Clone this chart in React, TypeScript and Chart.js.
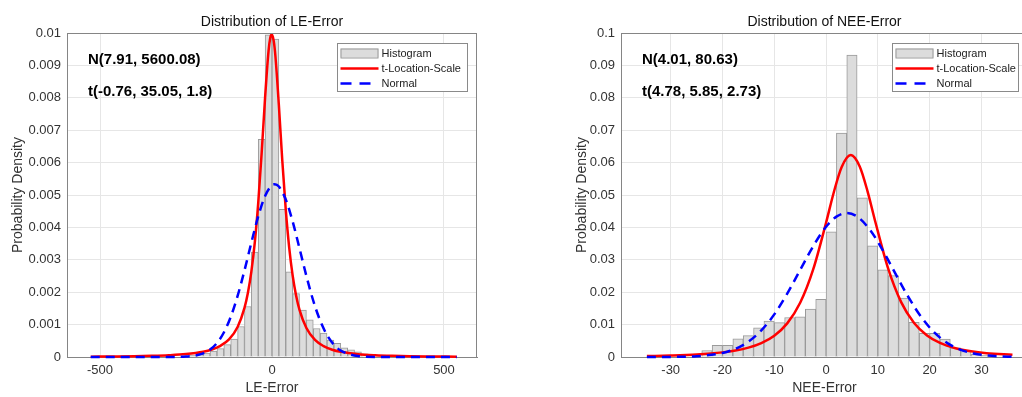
import React, { useEffect, useRef } from 'react';
import { Chart, registerables } from 'chart.js';

Chart.register(...registerables);

// ---------- LE-Error panel data ----------
const LE_BIN_CENTERS = [-250, -230, -210, -190, -170, -150, -130, -110, -90, -70, -50, -30, -10, 10, 30, 50, 70, 90, 110, 130, 150, 170, 190, 210, 230, 250, 270];
const LE_HIST = [0.00003, 0.00005, 0.00008, 0.00012, 0.00018, 0.00026, 0.00038, 0.00055, 0.00094, 0.00156, 0.00324, 0.00672, 0.00994, 0.00981, 0.00456, 0.00263, 0.00196, 0.00145, 0.00115, 0.00088, 0.00074, 0.00052, 0.00042, 0.00028, 0.00022, 0.00016, 0.0001];
const LE_T_X = [-527, -450, -400, -350, -300, -250, -200, -175, -150, -125, -100, -80, -70, -60, -50, -40, -30, -20, -10, -5, -1, 5, 10, 20, 30, 40, 50, 60, 70, 80, 100, 125, 150, 175, 200, 250, 300, 350, 400, 450, 537];
const LE_T_Y = [0.0000112, 0.0000177, 0.0000245, 0.0000354, 0.0000541, 0.000089, 0.000162, 0.000231, 0.000344, 0.000544, 0.000927, 0.001515, 0.001983, 0.002633, 0.003534, 0.004754, 0.006304, 0.008021, 0.009448, 0.00985, 0.00996, 0.009756, 0.009275, 0.007764, 0.00605, 0.004546, 0.003377, 0.002519, 0.001901, 0.001457, 0.000895, 0.000528, 0.000335, 0.000225, 0.000159, 0.0000876, 0.0000534, 0.000035, 0.0000243, 0.0000175, 0.0000107];
const LE_N_X = [-527, -300, -250, -200, -180, -160, -140, -120, -100, -80, -60, -40, -20, 0, 8, 20, 40, 60, 80, 100, 120, 140, 160, 180, 200, 250, 300, 537];
const LE_N_Y = [0, 0.0000011, 0.000014, 0.000112, 0.000228, 0.00043, 0.000755, 0.001237, 0.001884, 0.002672, 0.003531, 0.004342, 0.004972, 0.0053, 0.00533, 0.00526, 0.004862, 0.004183, 0.003351, 0.0025, 0.001736, 0.001123, 0.000676, 0.000379, 0.000198, 0.000028, 0.0000026, 0];
const LE_X_TICKS = [-500, 0, 500];
const LE_Y_TICKS = [0, 0.001, 0.002, 0.003, 0.004, 0.005, 0.006, 0.007, 0.008, 0.009, 0.01];

// ---------- NEE-Error panel data ----------
const NEE_BIN_CENTERS = [-23, -21, -19, -17, -15, -13, -11, -9, -7, -5, -3, -1, 1, 3, 5, 7, 9, 11, 13, 15, 17, 19, 21, 23, 25, 27, 29, 31];
const NEE_HIST = [0.002, 0.0036, 0.0036, 0.0056, 0.0066, 0.009, 0.0111, 0.0106, 0.0122, 0.0124, 0.0148, 0.0178, 0.0386, 0.0691, 0.0932, 0.0491, 0.0343, 0.0269, 0.0251, 0.0182, 0.0107, 0.0073, 0.0073, 0.0055, 0.0028, 0.0017, 0.0009, 0.0005];
const NEE_T_X = [-34.6, -30, -25, -20, -17.5, -15, -12.5, -10, -7.5, -5, -2.5, 0, 1.5, 3, 4.78, 6.5, 8, 9.5, 12, 14.5, 17, 19.5, 22, 25, 28, 31, 36];
const NEE_T_Y = [0.000296, 0.000457, 0.000778, 0.001429, 0.002006, 0.002892, 0.004297, 0.006582, 0.010384, 0.016736, 0.02696, 0.04144, 0.05086, 0.05857, 0.06233, 0.05881, 0.05122, 0.04182, 0.02726, 0.016934, 0.010503, 0.00665, 0.004339, 0.002706, 0.00176, 0.001188, 0.000663];
const NEE_N_X = [-34.6, -30, -25, -20, -17.5, -15, -12.5, -10, -7.5, -5, -2.5, 0, 2, 4, 6, 8.5, 11, 13.5, 16, 18.5, 21, 23.5, 26, 28.5, 31, 33.5, 36];
const NEE_N_Y = [0.0000043, 0.000034, 0.000241, 0.001246, 0.002523, 0.004727, 0.008198, 0.013156, 0.01954, 0.02686, 0.03416, 0.04021, 0.04333, 0.04443, 0.04335, 0.03921, 0.03282, 0.02542, 0.01822, 0.01209, 0.00742, 0.004217, 0.002216, 0.001078, 0.000485, 0.000202, 0.000078];
const NEE_X_TICKS = [-30, -20, -10, 0, 10, 20, 30];
const NEE_Y_TICKS = [0, 0.01, 0.02, 0.03, 0.04, 0.05, 0.06, 0.07, 0.08, 0.09, 0.1];

const LEGEND_LABELS = ['Histogram', 't-Location-Scale', 'Normal'];

const FONT = "'Liberation Sans', Arial, Helvetica, sans-serif";
const AXIS = '#858585';
const GRID = '#e6e6e6';
const TICK = '#333333';
const BAR_FILL = '#dcdcdc';
const BAR_EDGE = '#9a9a9a';
const RED = '#ff0000';
const BLUE = '#0000ff';

type PanelCfg = {
  left: number;
  width: number;
  yAxisWidth: number;
  yTitlePad: number;
  rightPad: number;
  xMin: number;
  xMax: number;
  yMax: number;
  centers: number[];
  hist: number[];
  tX: number[];
  tY: number[];
  nX: number[];
  nY: number[];
  xTicks: number[];
  yTicks: number[];
  title: string;
  xTitle: string;
  notes: string[];
  legendWidth: number;
};

function decorPlugin(cfg: PanelCfg) {
  return {
    id: 'decor',
    afterDraw(chart: any) {
      const { ctx, chartArea: a } = chart;
      ctx.save();
      // box (top & right)
      ctx.strokeStyle = AXIS;
      ctx.lineWidth = 1;
      ctx.beginPath();
      ctx.moveTo(a.left, a.top + 0.5);
      ctx.lineTo(a.right, a.top + 0.5);
      ctx.moveTo(a.right - 0.5, a.top);
      ctx.lineTo(a.right - 0.5, a.bottom);
      ctx.stroke();

      // title
      ctx.fillStyle = '#111';
      ctx.font = `14px ${FONT}`;
      ctx.textAlign = 'center';
      ctx.textBaseline = 'middle';
      ctx.fillText(cfg.title, (a.left + a.right) / 2, a.top - 10.5);

      // fit-parameter notes
      ctx.font = `bold 15px ${FONT}`;
      ctx.textAlign = 'left';
      ctx.fillStyle = '#000';
      cfg.notes.forEach((t, i) => ctx.fillText(t, a.left + 21, a.top + 27 + i * 32));

      // legend
      const bw = cfg.legendWidth;
      const bh = 48;
      const bx = Math.round(a.right - 10.5 - bw) + 0.5;
      const by = a.top + 10.5;
      ctx.fillStyle = '#ffffff';
      ctx.fillRect(bx, by, bw, bh);
      ctx.strokeStyle = '#8a8a8a';
      ctx.lineWidth = 1;
      ctx.strokeRect(bx, by, bw, bh);
      const sx = bx + 3;
      const ex = bx + 41;
      // histogram patch
      ctx.fillStyle = BAR_FILL;
      ctx.fillRect(sx, by + 5, ex - sx, 9);
      ctx.strokeStyle = BAR_EDGE;
      ctx.strokeRect(sx + 0.5, by + 5.5, ex - sx - 1, 9);
      // red line
      ctx.strokeStyle = RED;
      ctx.lineWidth = 2.5;
      ctx.beginPath();
      ctx.moveTo(sx, by + 25);
      ctx.lineTo(ex, by + 25);
      ctx.stroke();
      // blue dashed
      ctx.strokeStyle = BLUE;
      ctx.setLineDash([11, 8]);
      ctx.beginPath();
      ctx.moveTo(sx, by + 40);
      ctx.lineTo(ex, by + 40);
      ctx.stroke();
      ctx.setLineDash([]);
      ctx.fillStyle = '#222';
      ctx.font = `11px ${FONT}`;
      ctx.textAlign = 'left';
      ctx.textBaseline = 'middle';
      LEGEND_LABELS.forEach((lab, i) => ctx.fillText(lab, ex + 3, by + 10 + i * 15));
      ctx.restore();
    },
  };
}

function buildConfig(cfg: PanelCfg): any {
  return {
    type: 'bar',
    data: {
      datasets: [
        {
          type: 'line',
          label: 'Normal',
          data: cfg.nX.map((x, i) => ({ x, y: cfg.nY[i] })),
          borderColor: BLUE,
          borderWidth: 2.5,
          borderDash: [9, 6],
          pointRadius: 0,
          fill: false,
          cubicInterpolationMode: 'monotone',
          clip: false,
          order: 1,
        },
        {
          type: 'line',
          label: 't-Location-Scale',
          data: cfg.tX.map((x, i) => ({ x, y: cfg.tY[i] })),
          borderColor: RED,
          borderWidth: 2.5,
          pointRadius: 0,
          fill: false,
          cubicInterpolationMode: 'monotone',
          clip: false,
          order: 2,
        },
        {
          type: 'bar',
          label: 'Histogram',
          data: cfg.centers.map((x, i) => ({ x, y: cfg.hist[i] })),
          backgroundColor: BAR_FILL,
          borderColor: BAR_EDGE,
          borderWidth: 1,
          barPercentage: 1,
          categoryPercentage: 1,
          order: 3,
        },
      ],
    },
    options: {
      responsive: false,
      animation: false,
      events: [],
      layout: { padding: { top: 33, right: cfg.rightPad, left: 0, bottom: 0 } },
      plugins: {
        legend: { display: false },
        tooltip: { enabled: false },
        title: { display: false },
      },
      scales: {
        x: {
          type: 'linear',
          min: cfg.xMin,
          max: cfg.xMax,
          offset: false,
          grid: { color: GRID, drawTicks: false, offset: false },
          border: { color: AXIS },
          ticks: {
            padding: 6,
            color: TICK,
            font: { family: FONT, size: 13 },
            maxRotation: 0,
            autoSkip: false,
            callback: (v: number) => String(v),
          },
          afterBuildTicks: (s: any) => {
            s.ticks = cfg.xTicks.map((v) => ({ value: v }));
          },
          afterFit: (s: any) => {
            s.height = 40;
          },
          title: {
            display: true,
            text: cfg.xTitle,
            color: TICK,
            font: { family: FONT, size: 14 },
            padding: { top: 0, bottom: 0 },
          },
        },
        y: {
          type: 'linear',
          min: 0,
          max: cfg.yMax,
          grid: { color: GRID, drawTicks: false },
          border: { color: AXIS },
          ticks: {
            padding: 6,
            color: TICK,
            font: { family: FONT, size: 13 },
            autoSkip: false,
            callback: (v: number) => String(v),
          },
          afterBuildTicks: (s: any) => {
            s.ticks = cfg.yTicks.map((v) => ({ value: v }));
          },
          afterFit: (s: any) => {
            s.width = cfg.yAxisWidth;
          },
          title: {
            display: true,
            text: 'Probability Density',
            color: TICK,
            font: { family: FONT, size: 14 },
            padding: { top: cfg.yTitlePad, bottom: 0 },
          },
        },
      },
    },
    plugins: [decorPlugin(cfg)],
  };
}

function Panel({ cfg }: { cfg: PanelCfg }) {
  const ref = useRef<HTMLCanvasElement>(null);
  useEffect(() => {
    const chart = new Chart(ref.current as HTMLCanvasElement, buildConfig(cfg));
    return () => chart.destroy();
  }, []);
  return (
    <div style={{ position: 'absolute', left: cfg.left, top: 0, width: cfg.width, height: 397 }}>
      <canvas ref={ref} width={cfg.width} height={397} style={{ width: cfg.width, height: 397, display: 'block' }} />
    </div>
  );
}

const LE_CFG: PanelCfg = {
  left: 0,
  width: 490,
  yAxisWidth: 67,
  yTitlePad: 10,
  rightPad: 13,
  xMin: -596,
  xMax: 596,
  yMax: 0.01,
  centers: LE_BIN_CENTERS,
  hist: LE_HIST,
  tX: LE_T_X,
  tY: LE_T_Y,
  nX: LE_N_X,
  nY: LE_N_Y,
  xTicks: LE_X_TICKS,
  yTicks: LE_Y_TICKS,
  title: 'Distribution of LE-Error',
  xTitle: 'LE-Error',
  notes: ['N(7.91, 5600.08)', 't(-0.76, 35.05, 1.8)'],
  legendWidth: 130,
};

const NEE_CFG: PanelCfg = {
  left: 560,
  width: 468,
  yAxisWidth: 61,
  yTitlePad: 14,
  rightPad: 0,
  xMin: -39.6,
  xMax: 39,
  yMax: 0.1,
  centers: NEE_BIN_CENTERS,
  hist: NEE_HIST,
  tX: NEE_T_X,
  tY: NEE_T_Y,
  nX: NEE_N_X,
  nY: NEE_N_Y,
  xTicks: NEE_X_TICKS,
  yTicks: NEE_Y_TICKS,
  title: 'Distribution of NEE-Error',
  xTitle: 'NEE-Error',
  notes: ['N(4.01, 80.63)', 't(4.78, 5.85, 2.73)'],
  legendWidth: 126,
};

export default function App() {
  return (
    <div
      style={{
        position: 'absolute',
        left: 0,
        top: 0,
        width: 1022,
        height: 397,
        overflow: 'hidden',
        background: '#ffffff',
      }}
    >
      <Panel cfg={LE_CFG} />
      <Panel cfg={NEE_CFG} />
    </div>
  );
}
